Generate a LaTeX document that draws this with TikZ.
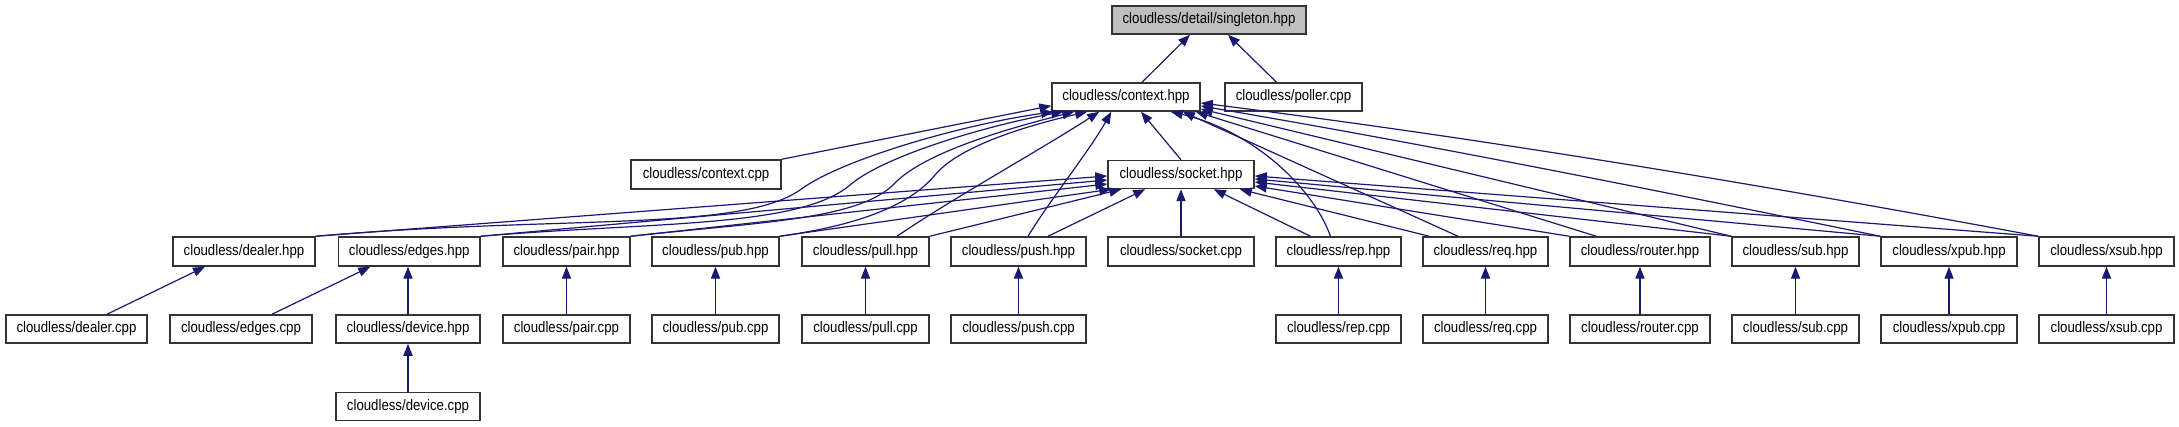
\documentclass[tikz,border=0pt]{standalone}
\usepackage{fontspec}
\setmainfont{Liberation Sans}[FakeStretch=0.87]
\usetikzlibrary{arrows.meta,calc}
\definecolor{edgeblue}{HTML}{191970}
\definecolor{boxline}{HTML}{333333}
\definecolor{rootfill}{HTML}{BFBFBF}
\begin{document}
\begin{tikzpicture}[x=0.5pt,y=-0.5pt,
  box/.style={draw=boxline,line width=0.75pt,fill=white,inner sep=0pt,minimum height=14pt,font=\fontsize{7.6pt}{9pt}\selectfont},
  rowbox/.style={box,minimum height=14.5pt},
  edge/.style={draw=edgeblue,line width=0.6pt,-{Triangle[length=6pt,width=4.6pt]}}]
\useasboundingbox (0,0) rectangle (2179,427);
% rank 0-2
\node[box,fill=rootfill,minimum width=97pt] (sing) at (1209,20) {cloudless/detail/singleton.hpp};
\node[box,minimum width=74pt] (ctx) at (1126,97) {cloudless/context.hpp};
\node[box,minimum width=68.5pt] (poll) at (1293.5,97) {cloudless/poller.cpp};
\node[rowbox,minimum width=75pt] (ctxcpp) at (706,174.5) {cloudless/context.cpp};
\node[box,minimum width=73pt] (sock) at (1181,174.5) {cloudless/socket.hpp};
% rank 3
\node[rowbox,minimum width=71pt] (dealh) at (244,251.5) {cloudless/dealer.hpp};
\node[rowbox,minimum width=70.75pt] (edgh) at (409.25,251.5) {cloudless/edges.hpp};
\node[rowbox,minimum width=63.5pt] (pairh) at (566.5,251.5) {cloudless/pair.hpp};
\node[rowbox,minimum width=63.5pt] (pubh) at (715.5,251.5) {cloudless/pub.hpp};
\node[rowbox,minimum width=63.5pt] (pullh) at (865.5,251.5) {cloudless/pull.hpp};
\node[rowbox,minimum width=67.5pt] (pushh) at (1018.5,251.5) {cloudless/push.hpp};
\node[rowbox,minimum width=73pt] (sockcpp) at (1181,251.5) {cloudless/socket.cpp};
\node[rowbox,minimum width=62.5pt] (reph) at (1338.5,251.5) {cloudless/rep.hpp};
\node[rowbox,minimum width=62.5pt] (reqh) at (1485.5,251.5) {cloudless/req.hpp};
\node[rowbox,minimum width=70pt] (routh) at (1640,251.5) {cloudless/router.hpp};
\node[rowbox,minimum width=63.5pt] (subh) at (1795.5,251.5) {cloudless/sub.hpp};
\node[rowbox,minimum width=68pt] (xpubh) at (1949,251.5) {cloudless/xpub.hpp};
\node[rowbox,minimum width=67.5pt] (xsubh) at (2106.5,251.5) {cloudless/xsub.hpp};
% rank 4
\node[box,minimum width=70.5pt] (dealc) at (76.5,329) {cloudless/dealer.cpp};
\node[box,minimum width=71pt] (edgc) at (241,329) {cloudless/edges.cpp};
\node[box,minimum width=72pt] (devh) at (408,329) {cloudless/device.hpp};
\node[box,minimum width=63.5pt] (pairc) at (566.5,329) {cloudless/pair.cpp};
\node[box,minimum width=63.5pt] (pubc) at (715.5,329) {cloudless/pub.cpp};
\node[box,minimum width=63.5pt] (pullc) at (865.5,329) {cloudless/pull.cpp};
\node[box,minimum width=67.5pt] (pushc) at (1018.5,329) {cloudless/push.cpp};
\node[box,minimum width=62.5pt] (repc) at (1338.5,329) {cloudless/rep.cpp};
\node[box,minimum width=62.5pt] (reqc) at (1485.5,329) {cloudless/req.cpp};
\node[box,minimum width=70pt] (routc) at (1640,329) {cloudless/router.cpp};
\node[box,minimum width=63.5pt] (subc) at (1795.5,329) {cloudless/sub.cpp};
\node[box,minimum width=68pt] (xpubc) at (1949,329) {cloudless/xpub.cpp};
\node[box,minimum width=67.5pt] (xsubc) at (2106.5,329) {cloudless/xsub.cpp};
% rank 5
\node[box,minimum width=72pt] (devc) at (408,406.7) {cloudless/device.cpp};

% to singleton
\draw[edge] ($(ctx.north)+(16,0)$) -- ($(sing.south)+(-19,0)$);
\draw[edge] ($(poll.north)+(-17,0)$) -- ($(sing.south)+(19,0)$);
% to context.hpp (left)
\draw[edge] (ctxcpp.north east) -- ($(ctx.south west)+(0,-6)$);
\draw[edge] (dealh.north east) .. controls (560,215) and (740,232) .. (800,190) .. controls (840,160) and (960,125) .. ($(ctx.south west)+(2,0)$);
\draw[edge] (edgh.north east) .. controls (650,222) and (800,228) .. (850,185) .. controls (885,155) and (990,125) .. ($(ctx.south west)+(12,0)$);
\draw[edge] (pairh.north east) .. controls (760,222) and (860,220) .. (895,183) .. controls (925,152) and (1010,128) .. ($(ctx.south west)+(23,0)$);
\draw[edge] (pubh.north east) .. controls (860,225) and (910,205) .. (935,175) .. controls (960,145) and (1030,125) .. ($(ctx.south west)+(36,0)$);
\draw[edge] ($(pullh.north)+(31.5,0)$) .. controls (950,200) and (1040,150) .. ($(ctx.south west)+(48,0)$);
\draw[edge] ($(pushh.north)+(9.5,0)$) .. controls (1050,200) and (1090,150) .. ($(ctx.south west)+(60,0)$);
\draw[edge] (sock.north) -- ($(ctx.south)+(15,0)$);
% to context.hpp (right)
\draw[edge] ($(reph.north)+(-8,0)$) .. controls (1312,185) and (1250,130) .. ($(ctx.south east)+(-30,0)$);
\draw[edge] ($(reqh.north)+(-27.5,0)$) -- ($(ctx.south east)+(-18,0)$);
\draw[edge] ($(routh.north west)+(27,0)$) -- ($(ctx.south east)+(-5,0)$);
\draw[edge] (subh.north west) -- ($(ctx.east)+(0,12)$);
\draw[edge] (xpubh.north west) .. controls (1655,190) and (1430,145) .. ($(ctx.east)+(0,9)$);
\draw[edge] (xsubh.north west) .. controls (1759,184) and (1479,138) .. ($(ctx.east)+(0,6)$);
% to socket.hpp
\draw[edge] (dealh.north east) -- ($(sock.west)+(0,1.5)$);
\draw[edge] (edgh.north east) -- ($(sock.west)+(0,5.5)$);
\draw[edge] (pairh.north east) -- ($(sock.west)+(0,9.5)$);
\draw[edge] (pubh.north east) -- ($(sock.south west)+(4,0)$);
\draw[edge] (pullh.north east) -- ($(sock.south west)+(14,0)$);
\draw[edge] ($(pushh.north)+(29.5,0)$) -- ($(sock.south west)+(38,0)$);
\draw[edge] (sockcpp) -- (sock);
\draw[edge] ($(reph.north)+(-28,0)$) -- ($(sock.south east)+(-41,0)$);
\draw[edge] ($(reqh.north west)+(7,0)$) -- ($(sock.south east)+(-15,0)$);
\draw[edge] (routh.north west) -- ($(sock.east)+(0,11.5)$);
\draw[edge] (subh.north west) -- ($(sock.east)+(0,7.5)$);
\draw[edge] (xpubh.north west) -- ($(sock.east)+(0,4.5)$);
\draw[edge] (xsubh.north west) -- ($(sock.east)+(0,1.5)$);
% rank 4 -> rank 3
\draw[edge] ($(dealc.north)+(30.5,0)$) -- ($(dealh.south)+(-39,0)$);
\draw[edge] ($(edgc.north)+(31,0)$) -- ($(edgh.south)+(-39,0)$);
\draw[edge] (devh) -- (edgh.south -| devh);
\draw[edge] (pairc) -- (pairh);
\draw[edge] (pubc) -- (pubh);
\draw[edge] (pullc) -- (pullh);
\draw[edge] (pushc) -- (pushh);
\draw[edge] (repc) -- (reph);
\draw[edge] (reqc) -- (reqh);
\draw[edge] (routc) -- (routh);
\draw[edge] (subc) -- (subh);
\draw[edge] (xpubc) -- (xpubh);
\draw[edge] (xsubc) -- (xsubh);
\draw[edge] (devc) -- (devh);
\end{tikzpicture}
\end{document}
